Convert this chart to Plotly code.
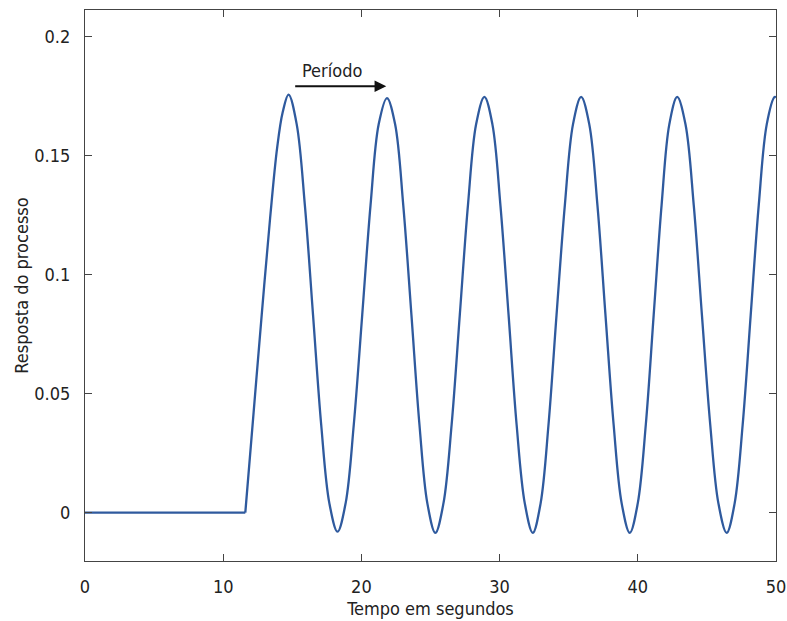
import plotly.graph_objects as go

# Flat part before the oscillation starts
t_flat = [0.0, 11.6]
y_flat = [0.0, 0.0]

# Sustained oscillation
t_osc = [11.6, 12.2, 12.8, 13.4, 13.9, 14.3, 14.73,
         15.32, 15.91, 16.50, 17.09, 17.68, 18.27, 18.86, 19.45, 20.06, 20.66, 21.25, 21.85,
         22.44, 23.03, 23.62, 24.20, 24.77, 25.35, 25.94, 26.53, 27.12, 27.71, 28.30, 28.90,
         29.48, 30.06, 30.65, 31.23, 31.82, 32.40, 32.97, 33.54, 34.12, 34.72, 35.31, 35.90,
         36.49, 37.08, 37.66, 38.25, 38.83, 39.42, 40.00, 40.58, 41.15, 41.72, 42.28, 42.85,
         43.45, 44.05, 44.64, 45.24, 45.83, 46.43, 47.01, 47.59, 48.17, 48.75, 49.33, 49.90, 50.0]
y_osc = [0.0, 0.042, 0.084, 0.124, 0.153, 0.168, 0.1755,
         0.163, 0.129, 0.083, 0.037, 0.004, -0.008, 0.004, 0.037, 0.083, 0.129, 0.163, 0.174,
         0.163, 0.129, 0.083, 0.037, 0.004, -0.0085, 0.004, 0.037, 0.083, 0.129, 0.163, 0.1745,
         0.163, 0.129, 0.083, 0.037, 0.004, -0.0085, 0.004, 0.037, 0.083, 0.129, 0.163, 0.1745,
         0.163, 0.129, 0.083, 0.037, 0.004, -0.0085, 0.004, 0.037, 0.083, 0.129, 0.163, 0.1745,
         0.163, 0.129, 0.083, 0.037, 0.004, -0.0085, 0.004, 0.037, 0.083, 0.129, 0.163, 0.1745, 0.1743]

x_ticks = [0, 10, 20, 30, 40, 50]
y_ticks = [0, 0.05, 0.1, 0.15, 0.2]
y_tick_labels = ["0", "0.05", "0.1", "0.15", "0.2"]

arrow_label = "Período"
arrow_tail = (15.1, 0.179)
arrow_head = (21.8, 0.179)
label_pos = (17.9, 0.1855)

LINE = "#2f5a9e"
FONT = "Liberation Sans Narrow, Arial Narrow, DejaVu Sans Condensed, sans-serif"

fig = go.Figure()
fig.add_trace(go.Scatter(x=t_flat, y=y_flat, mode="lines",
                         line=dict(color=LINE, width=2.3), showlegend=False))
fig.add_trace(go.Scatter(x=t_osc, y=y_osc, mode="lines",
                         line=dict(color=LINE, width=2.3, shape="spline", smoothing=1.0),
                         showlegend=False))

fig.add_annotation(x=arrow_head[0], y=arrow_head[1], ax=arrow_tail[0], ay=arrow_tail[1],
                   xref="x", yref="y", axref="x", ayref="y", text="",
                   showarrow=True, arrowhead=2, arrowsize=1.3, arrowwidth=1.8,
                   arrowcolor="#111111")
fig.add_annotation(x=label_pos[0], y=label_pos[1], xref="x", yref="y",
                   text=arrow_label, showarrow=False,
                   font=dict(family=FONT, size=18, color="#222222"))

axis_common = dict(showline=True, linecolor="#444444", linewidth=1.3, mirror="ticks",
                   ticks="inside", ticklen=7, tickwidth=1.2, tickcolor="#444444",
                   showgrid=False, zeroline=False, automargin=False,
                   ticklabeloverflow="allow",
                   tickfont=dict(family=FONT, size=18, color="#222222"))

fig.update_xaxes(range=[0, 50], tickvals=x_ticks, ticktext=[str(v) for v in x_ticks],
                 ticklabelstandoff=9,
                 title=dict(text="Tempo em segundos", standoff=6,
                            font=dict(family=FONT, size=18, color="#222222")),
                 **axis_common)
fig.update_yaxes(range=[-0.0203, 0.211], tickvals=y_ticks, ticktext=y_tick_labels,
                 ticklabelstandoff=10,
                 title=dict(text="Resposta do processo", standoff=0,
                            font=dict(family=FONT, size=18, color="#222222")),
                 **axis_common)

fig.update_layout(width=787, height=621, plot_bgcolor="white", paper_bgcolor="white",
                  margin=dict(l=85, r=11, t=10, b=60))

fig.write_html("out.html", config={"displayModeBar": False},
               post_script="document.body.style.margin='0';")
